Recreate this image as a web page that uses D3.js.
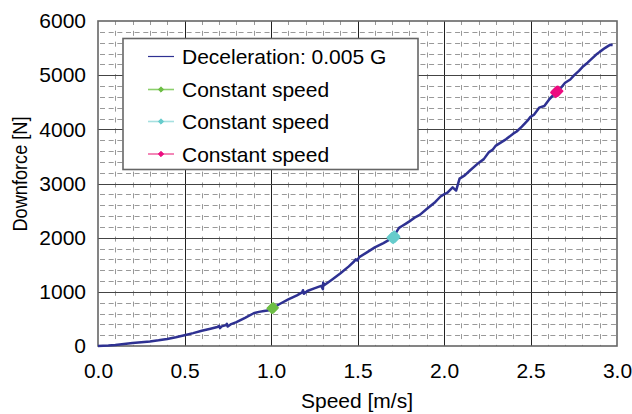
<!DOCTYPE html>
<html>
<head>
<meta charset="utf-8">
<script src="https://cdn.jsdelivr.net/npm/d3@7"></script>
<style>
  body { margin: 0; background: #fff; }
  svg { display: block; font-family: "Liberation Sans", Arial, sans-serif; }
</style>
</head>
<body>
<svg id="chart" width="632" height="414"></svg>
<script>
// ---------- data ----------
const xTicks = [0, 0.5, 1.0, 1.5, 2.0, 2.5, 3.0];
const yTicks = [0, 1000, 2000, 3000, 4000, 5000, 6000];

const decelSpeed = [0.000,0.030,0.060,0.100,0.150,0.200,0.250,0.300,0.350,0.400,0.450,0.500,0.550,0.600,0.650,0.690,0.700,0.705,0.715,0.740,0.745,0.750,0.770,0.800,0.850,0.900,0.930,0.960,0.990,1.010,1.050,1.100,1.150,1.180,1.185,1.190,1.210,1.250,1.290,1.300,1.302,1.305,1.350,1.400,1.450,1.480,1.490,1.500,1.510,1.550,1.600,1.650,1.700,1.720,1.740,1.760,1.780,1.800,1.830,1.860,1.900,1.950,1.980,2.000,2.020,2.050,2.070,2.090,2.120,2.150,2.200,2.230,2.260,2.280,2.300,2.330,2.360,2.400,2.420,2.450,2.480,2.500,2.520,2.550,2.580,2.610,2.650,2.680,2.700,2.730,2.750,2.780,2.800,2.830,2.850,2.880,2.900,2.930,2.950,2.960,2.975];
const decelForce = [0,3,8,18,35,55,70,85,105,130,162,200,238,280,318,350,372,330,362,385,410,360,405,440,520,605,630,645,660,700,775,860,935,990,1030,965,1015,1065,1110,1050,1170,1115,1220,1340,1470,1560,1600,1580,1640,1720,1820,1900,1990,2080,2180,2220,2260,2300,2370,2420,2530,2660,2760,2800,2830,2930,2870,3090,3150,3240,3380,3450,3580,3620,3700,3760,3820,3920,3960,4050,4150,4230,4270,4400,4430,4560,4690,4780,4860,4920,4990,5080,5150,5230,5290,5380,5430,5500,5540,5560,5555];

const const1Speed = [1.006, 1.013];
const const1Force = [695, 705];
const const2Speed = [1.700, 1.712, 1.706, 1.716];
const const2Force = [2000, 2030, 1985, 2010];
const const3Speed = [2.646, 2.658, 2.652];
const const3Force = [4680, 4705, 4700];

const seriesNames = ["Deceleration: 0.005 G", "Constant speed", "Constant speed", "Constant speed"];
const seriesColors = ["#2E3192", "#6DBE45", "#66CCCC", "#EC0C80"];
const legendLineColors = ["#2E3192", "#8ccf6c", "#a6e0e0", "#f06aa6"];

// ---------- layout ----------
const svg = d3.select("#chart");
const L = 98, R = 617, T = 21, B = 346;
const x = d3.scaleLinear().domain([0, 3]).range([L, R]);
const y = d3.scaleLinear().domain([0, 6000]).range([B, T]);

// minor grid
const minorX = d3.range(0, 3.0001, 0.1).filter(v => Math.abs(v*2 - Math.round(v*2)) > 1e-6);
const minorY = d3.range(0, 6001, 200).filter(v => v % 1000 !== 0);
const g = svg.append("g");
g.selectAll(".mx").data(minorX).join("line")
  .attr("x1", d => Math.round(x(d)) + 0.5).attr("x2", d => Math.round(x(d)) + 0.5)
  .attr("y1", T).attr("y2", B)
  .attr("stroke", "#999").attr("stroke-width", 1)
  .attr("stroke-dasharray", "5,5.83").attr("stroke-dashoffset", 1);
g.selectAll(".my").data(minorY).join("line")
  .attr("x1", L).attr("x2", R)
  .attr("y1", d => Math.round(y(d)) + 0.5).attr("y2", d => Math.round(y(d)) + 0.5)
  .attr("stroke", "#999").attr("stroke-width", 1)
  .attr("stroke-dasharray", "5,3.66").attr("stroke-dashoffset", -2);

// major grid
g.selectAll(".Mx").data(xTicks.slice(1, -1)).join("line")
  .attr("x1", d => Math.round(x(d)) + 0.5).attr("x2", d => Math.round(x(d)) + 0.5)
  .attr("y1", T).attr("y2", B).attr("stroke", "#222").attr("stroke-width", 1);
g.selectAll(".My").data(yTicks.slice(1, -1)).join("line")
  .attr("x1", L).attr("x2", R)
  .attr("y1", d => Math.round(y(d)) + 0.5).attr("y2", d => Math.round(y(d)) + 0.5)
  .attr("stroke", "#444").attr("stroke-width", 1);

// border
svg.append("rect").attr("x", L).attr("y", T).attr("width", R - L).attr("height", B - T)
  .attr("fill", "none").attr("stroke", "#666").attr("stroke-width", 1.6);

// axes (labels only)
const xAxis = d3.axisBottom(x).tickValues(xTicks).tickFormat(d3.format(".1f")).tickSize(0).tickPadding(17);
svg.append("g").attr("transform", `translate(0,${B})`).call(xAxis)
  .call(s => s.select(".domain").remove())
  .selectAll("text").attr("font-size", 21).attr("fill", "#000")
  .attr("font-family", "Liberation Sans, Arial, sans-serif");
const yAxis = d3.axisLeft(y).tickValues(yTicks).tickFormat(d3.format("d")).tickSize(0).tickPadding(12);
svg.append("g").attr("transform", `translate(${L},0)`).call(yAxis)
  .call(s => s.select(".domain").remove())
  .selectAll("text").attr("font-size", 21).attr("fill", "#000")
  .attr("font-family", "Liberation Sans, Arial, sans-serif");

// axis titles
svg.append("text").attr("x", 357).attr("y", 408).attr("text-anchor", "middle")
  .attr("font-size", 21).text("Speed [m/s]");
svg.append("text").attr("transform", "translate(27,174) rotate(-90)")
  .attr("text-anchor", "middle").attr("font-size", 21)
  .attr("textLength", 115).attr("lengthAdjust", "spacingAndGlyphs")
  .text("Downforce [N]");

// deceleration line
const decel = decelSpeed.map((s, i) => [s, decelForce[i]]);
svg.append("path").datum(decel)
  .attr("fill", "none").attr("stroke", seriesColors[0]).attr("stroke-width", 2.5)
  .attr("stroke-linejoin", "round")
  .attr("d", d3.line().x(d => x(d[0])).y(d => y(d[1])));

// constant speed clusters
const consts = [[const1Speed, const1Force], [const2Speed, const2Force], [const3Speed, const3Force]];
const diamond = d3.symbol().type(d3.symbolDiamond2).size(55);
consts.forEach((c, k) => {
  const pts = c[0].map((s, i) => [s, c[1][i]]);
  svg.append("g").selectAll("path").data(pts).join("path")
    .attr("transform", d => `translate(${x(d[0])},${y(d[1])})`)
    .attr("d", diamond).attr("fill", seriesColors[k + 1])
    .attr("stroke", seriesColors[k + 1]).attr("stroke-width", 2).attr("stroke-linejoin", "round");
});

// legend
const lg = svg.append("g");
lg.append("rect").attr("x", 123).attr("y", 38.5).attr("width", 295).attr("height", 131)
  .attr("fill", "#fff").attr("stroke", "#666").attr("stroke-width", 1.6);
const rowY = [56.5, 89.5, 121.5, 154];
seriesNames.forEach((n, i) => {
  lg.append("line").attr("x1", 148).attr("x2", 174).attr("y1", rowY[i]).attr("y2", rowY[i])
    .attr("stroke", legendLineColors[i]).attr("stroke-width", i === 0 ? 1.2 : 1.6);
  if (i > 0) {
    lg.append("path").attr("transform", `translate(161,${rowY[i]})`)
      .attr("d", d3.symbol().type(d3.symbolDiamond2).size(18)).attr("fill", seriesColors[i])
      .attr("stroke", seriesColors[i]).attr("stroke-width", 1);
  }
  lg.append("text").attr("x", 182).attr("y", rowY[i]).attr("dy", "0.36em")
    .attr("font-size", 21).attr("fill", "#000").text(n);
});
</script>
</body>
</html>
